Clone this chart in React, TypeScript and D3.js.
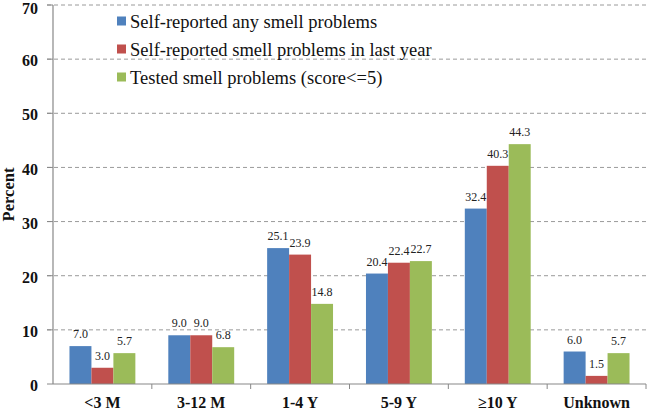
import React from 'react';
import * as d3 from 'd3';

const categories = ['<3 M', '3-12 M', '1-4 Y', '5-9 Y', '≥10 Y', 'Unknown'];
const seriesNames = [
  'Self-reported any smell problems',
  'Self-reported smell problems in last year',
  'Tested smell problems (score<=5)',
];
const anySmell = [7.0, 9.0, 25.1, 20.4, 32.4, 6.0];
const lastYear = [3.0, 9.0, 23.9, 22.4, 40.3, 1.5];
const tested = [5.7, 6.8, 14.8, 22.7, 44.3, 5.7];
const seriesValues = [anySmell, lastYear, tested];
const seriesColors = ['#4F81BD', '#C0504D', '#9BBB59'];
const yTicks = [0, 10, 20, 30, 40, 50, 60, 70];

const W = 647;
const H = 410;
const left = 53;
const right = 646;
const top = 5;
const bottom = 384;
const axisColor = '#888888';

export default function App() {
  const x0 = d3.scaleBand<string>()
    .domain(categories)
    .range([left, right])
    .paddingInner(1 / 3)
    .paddingOuter(1 / 6);
  const x1 = d3.scaleBand<number>()
    .domain([0, 1, 2])
    .range([0, x0.bandwidth()]);
  const y = d3.scaleLinear().domain([0, 70]).range([bottom, top]);
  const step = x0.step();

  return (
    <svg width={W} height={H} style={{ position: 'absolute', left: 0, top: 0, background: '#fff' }}>
      {/* gridlines */}
      {yTicks.filter(t => t > 0).map(t => (
        <line key={'g' + t} x1={left - 6} x2={right} y1={y(t)} y2={y(t)}
          stroke="#9a9a9a" strokeWidth={1} strokeDasharray="4,3" />
      ))}
      {/* y axis */}
      <line x1={left} x2={left} y1={top} y2={bottom} stroke={axisColor} strokeWidth={1.2} />
      {yTicks.map(t => (
        <g key={'t' + t}>
          <line x1={left - 6} x2={left} y1={y(t)} y2={y(t)} stroke={axisColor} strokeWidth={1} />
          <text x={38} y={y(t) + (t === 70 ? 3 : 1.5)} dy="0.35em" textAnchor="end"
            fontFamily="'Liberation Serif', serif" fontWeight="bold" fontSize={16} fill="#111">
            {t}
          </text>
        </g>
      ))}
      <text transform={`translate(14,${(top + bottom) / 2}) rotate(-90)`} textAnchor="middle"
        fontFamily="'Liberation Serif', serif" fontWeight="bold" fontSize={16.5} fill="#111">
        Percent
      </text>

      {/* bars */}
      {categories.map((c, ci) => (
        <g key={c} transform={`translate(${x0(c)},0)`}>
          {seriesValues.map((vals, si) => (
            <rect key={si} x={x1(si)} y={y(vals[ci])} width={x1.bandwidth()}
              height={y(0) - y(vals[ci])} fill={seriesColors[si]} />
          ))}
          {seriesValues.map((vals, si) => (
            <text key={'v' + si} x={(x1(si) || 0) + x1.bandwidth() / 2} y={y(vals[ci]) - 8}
              textAnchor="middle" fontFamily="'Liberation Serif', serif" fontSize={12} fill="#222">
              {vals[ci].toFixed(1)}
            </text>
          ))}
        </g>
      ))}

      {/* x axis */}
      <line x1={left} x2={right} y1={bottom} y2={bottom} stroke={axisColor} strokeWidth={1.2} />
      {categories.map((c, i) => (
        <line key={'xt' + i} x1={(x0(c) || 0) - step / 6 + step} x2={(x0(c) || 0) - step / 6 + step}
          y1={bottom} y2={bottom + 5} stroke={axisColor} strokeWidth={1} />
      ))}
      {categories.map(c => (
        <text key={'xl' + c} x={(x0(c) || 0) + x0.bandwidth() / 2} y={407.5} textAnchor="middle"
          fontFamily="'Liberation Serif', serif" fontWeight="bold" fontSize={16} fill="#111">
          {c}
        </text>
      ))}

      {/* legend */}
      {seriesNames.map((n, i) => (
        <g key={n} transform={`translate(117,${21 + i * 28})`}>
          <rect x={0} y={-4.5} width={9} height={9} fill={seriesColors[i]} />
          <text x={13} y={7} fontFamily="'Liberation Serif', serif" fontSize={18.5} fill="#111">
            {n}
          </text>
        </g>
      ))}
    </svg>
  );
}
